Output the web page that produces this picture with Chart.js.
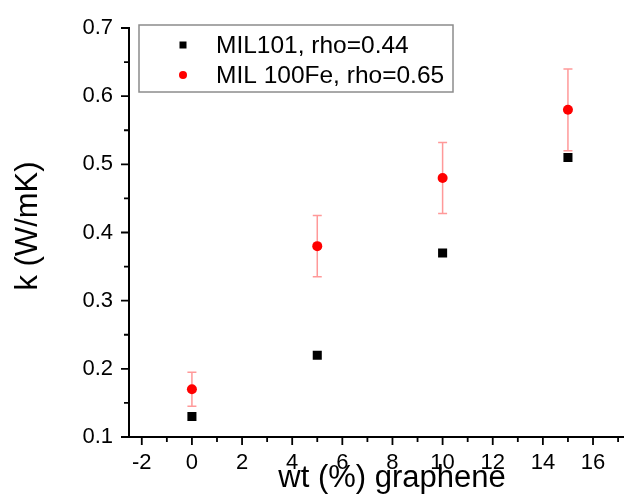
<!DOCTYPE html>
<html>
<head>
<meta charset="utf-8">
<script src="https://cdn.jsdelivr.net/npm/chart.js@4"></script>
<style>
  html, body { margin: 0; padding: 0; background: #fff; overflow: hidden; }
  #chart { display: block; }
</style>
</head>
<body>
<canvas id="chart" width="630" height="495"></canvas>
<script>
// --- Data ---
const wt = [0, 5, 10, 15];
const mil101 = [0.13, 0.22, 0.37, 0.51];
const mil100Fe = [0.17, 0.38, 0.48, 0.58];
const mil100FeErr = [0.025, 0.045, 0.052, 0.06];

const xTicks = [-2, 0, 2, 4, 6, 8, 10, 12, 14, 16];
const yTicks = [0.1, 0.2, 0.3, 0.4, 0.5, 0.6, 0.7];
const xMinor = [-2, -1, 0, 1, 2, 3, 4, 5, 6, 7, 8, 9, 10, 11, 12, 13, 14, 15, 16, 17];
const yMinor = [0.15, 0.25, 0.35, 0.45, 0.55, 0.65];

const labels = ['MIL101, rho=0.44', 'MIL 100Fe, rho=0.65'];
const xTitle = 'wt (%) graphene';
const yTitle = 'k (W/mK)';

const FONT = '"Liberation Sans", Arial, sans-serif';

// --- Plugins ---
const errorBars = {
    id: 'errorBars',
    beforeDatasetsDraw(chart) {
        const { ctx, scales: { x, y } } = chart;
        ctx.save();
        ctx.strokeStyle = 'rgba(255, 70, 70, 0.55)';
        ctx.lineWidth = 1.5;
        wt.forEach((v, i) => {
            const px = x.getPixelForValue(v);
            const top = y.getPixelForValue(mil100Fe[i] + mil100FeErr[i]);
            const bot = y.getPixelForValue(mil100Fe[i] - mil100FeErr[i]);
            ctx.beginPath();
            ctx.moveTo(px, top); ctx.lineTo(px, bot);
            ctx.moveTo(px - 4.5, top); ctx.lineTo(px + 4.5, top);
            ctx.moveTo(px - 4.5, bot); ctx.lineTo(px + 4.5, bot);
            ctx.stroke();
        });
        ctx.restore();
    },
};

const axisDecor = {
    id: 'axisDecor',
    afterDraw(chart) {
        const { ctx, chartArea: a, scales: { x, y } } = chart;
        ctx.save();
        ctx.strokeStyle = '#000';
        ctx.lineWidth = 1.8;
        ctx.beginPath();
        // major ticks
        xTicks.forEach(v => { const px = x.getPixelForValue(v); ctx.moveTo(px, a.bottom); ctx.lineTo(px, a.bottom + 8); });
        yTicks.forEach(v => { const py = y.getPixelForValue(v); ctx.moveTo(a.left, py); ctx.lineTo(a.left - 8, py); });
        // minor ticks
        xMinor.filter(v => !xTicks.includes(v)).forEach(v => { const px = x.getPixelForValue(v); ctx.moveTo(px, a.bottom); ctx.lineTo(px, a.bottom + 5); });
        yMinor.forEach(v => { const py = y.getPixelForValue(v); ctx.moveTo(a.left, py); ctx.lineTo(a.left - 5, py); });
        ctx.stroke();

        // axis titles
        ctx.fillStyle = '#000';
        ctx.font = '31px ' + FONT;
        ctx.textAlign = 'center';
        ctx.textBaseline = 'alphabetic';
        ctx.fillText(xTitle, 392, 487);
        ctx.translate(37, 226);
        ctx.rotate(-Math.PI / 2);
        ctx.fillText(yTitle, 0, 0);
        ctx.restore();

        // legend
        ctx.save();
        ctx.strokeStyle = '#8c8c8c';
        ctx.lineWidth = 1.5;
        ctx.strokeRect(139, 25, 314, 67);
        ctx.font = '24.5px ' + FONT;
        ctx.fillStyle = '#000';
        ctx.textAlign = 'left';
        ctx.textBaseline = 'alphabetic';
        ctx.fillRect(183 - 3.5, 45 - 3.5, 7, 7);
        ctx.fillText(labels[0], 216, 53);
        ctx.fillStyle = '#ff0000';
        ctx.beginPath();
        ctx.arc(183, 75, 4, 0, Math.PI * 2);
        ctx.fill();
        ctx.fillStyle = '#000';
        ctx.fillText(labels[1], 216, 83);
        ctx.restore();
    },
};

// --- Chart ---
new Chart(document.getElementById('chart'), {
    type: 'scatter',
    data: {
        datasets: [
            {
                label: labels[0],
                data: wt.map((v, i) => ({ x: v, y: mil101[i] })),
                pointStyle: 'rect',
                pointRadius: 6.4,
                backgroundColor: '#000',
                borderColor: '#000',
                borderWidth: 0,
            },
            {
                label: labels[1],
                data: wt.map((v, i) => ({ x: v, y: mil100Fe[i] })),
                pointStyle: 'circle',
                pointRadius: 5,
                backgroundColor: '#ff0000',
                borderColor: '#ff0000',
                borderWidth: 0,
            },
        ],
    },
    options: {
        responsive: false,
        animation: false,
        layout: { padding: { top: 28, right: 0, left: 0, bottom: 0 } },
        plugins: { legend: { display: false }, tooltip: { enabled: false } },
        scales: {
            x: {
                type: 'linear',
                min: -2.51,
                max: 17.22,
                afterBuildTicks: s => { s.ticks = xTicks.map(v => ({ value: v })); },
                afterFit: s => { s.height = 58; },
                grid: { display: false, drawTicks: true, tickLength: 8 },
                border: { display: true, color: '#000', width: 2 },
                ticks: { color: '#000', font: { family: FONT, size: 22 }, padding: 5, maxRotation: 0, autoSkip: false },
            },
            y: {
                type: 'linear',
                min: 0.1,
                max: 0.7,
                afterBuildTicks: s => { s.ticks = yTicks.map(v => ({ value: v })); },
                afterFit: s => { s.width = 129; },
                grid: { display: false, drawTicks: true, tickLength: 8 },
                border: { display: true, color: '#000', width: 2 },
                ticks: { color: '#000', font: { family: FONT, size: 22 }, padding: 8, callback: v => v.toFixed(1) },
            },
        },
    },
    plugins: [errorBars, axisDecor],
});
</script>
</body>
</html>
